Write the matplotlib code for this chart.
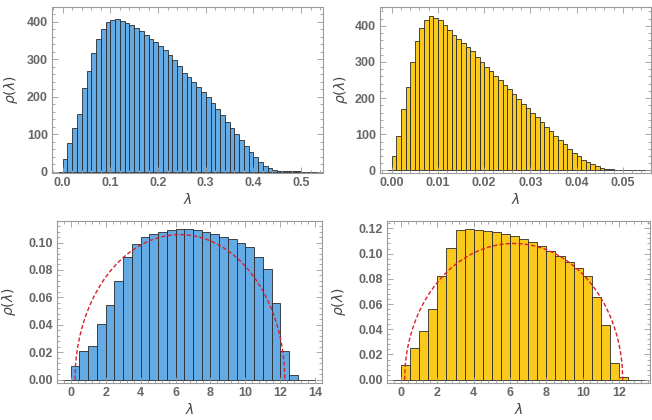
import numpy as np
import matplotlib.pyplot as plt
from matplotlib.ticker import MultipleLocator, FormatStrFormatter

# top row: spectra of small-lambda ensembles (bin starts + counts)
tl_start, tl_width = -0.01, 0.01
tl_counts = [0,
             34, 76, 116, 153, 222, 268, 316, 354, 380, 398,
             404, 407, 403, 397, 390, 383, 374, 364, 354, 345,
             336, 325, 312, 298, 282, 264, 252, 240, 226, 213,
             198, 182, 166, 150, 133, 116, 100, 84, 68, 52,
             38, 26, 16, 9, 5, 3, 2, 1.5, 1, 0.6,
             0.4, 0.3, 0.2, 0.1, 0.1]

tr_start, tr_width = -0.001, 0.001
tr_counts = [0,
             39, 94, 170, 230, 301, 359, 393, 416, 426, 421,
             415, 403, 389, 375, 363, 353, 342, 329, 315, 301,
             287, 275, 262, 249, 236, 224, 211, 198, 185, 172,
             160, 147, 134, 121, 108, 96, 84, 72, 60, 49,
             39, 30, 23, 17, 12, 8, 5, 3.5, 2.5, 1.5,
             1, 0.7, 0.5, 0.4, 0.3, 0.2, 0.1]

# bottom row: densities with semicircle overlay
bl_start, bl_width = -0.5, 0.5
bl_density = [0,
              0.0097, 0.0206, 0.0247, 0.0407, 0.0545, 0.0719, 0.0896, 0.0988,
              0.1040, 0.1060, 0.1077, 0.1094, 0.1096, 0.1097, 0.1089, 0.1077,
              0.1065, 0.1041, 0.1024, 0.0993, 0.0964, 0.0896, 0.0806, 0.0557,
              0.0211, 0.0031, 0, 0]

br_start, br_width = -0.5, 0.5
br_density = [0,
              0.0113, 0.0250, 0.0387, 0.0558, 0.0824, 0.1047, 0.1184, 0.1197,
              0.1184, 0.1179, 0.1171, 0.1158, 0.1142, 0.1118, 0.1092, 0.1060,
              0.1021, 0.0982, 0.0934, 0.0882, 0.0824, 0.0658, 0.0434, 0.0132,
              0.0018, 0, 0]

# semicircle overlay: (centre, radius, peak)
bl_semi = (6.25, 6.0, 0.1058)
br_semi = (6.2, 6.0, 0.108)

blue = '#64abe6'
gold = '#fbc91c'
gray = '#666666'

W, H = 652, 420
fig = plt.figure(figsize=(W / 100, H / 100), dpi=100)


def box(l, r, t, b):
    return [l / W, 1 - b / H, (r - l) / W, (b - t) / H]


def style(ax, xmaj, ymaj, xfmt, yfmt, ylab_x):
    for s in ax.spines.values():
        s.set_color('#9a9a9a')
        s.set_linewidth(0.8)
    ax.xaxis.set_major_locator(MultipleLocator(xmaj))
    ax.xaxis.set_minor_locator(MultipleLocator(xmaj / 5))
    ax.yaxis.set_major_locator(MultipleLocator(ymaj))
    ax.yaxis.set_minor_locator(MultipleLocator(ymaj / 5))
    ax.xaxis.set_major_formatter(FormatStrFormatter(xfmt))
    ax.yaxis.set_major_formatter(FormatStrFormatter(yfmt))
    ax.tick_params(which='both', direction='in', top=True, right=True,
                   color='#9a9a9a', width=0.6)
    ax.tick_params(which='major', length=4, labelsize=9,
                   labelcolor=gray, pad=3)
    ax.tick_params(which='minor', length=2)
    for lab in ax.get_xticklabels() + ax.get_yticklabels():
        lab.set_fontweight('bold')
        lab.set_family('Liberation Sans')
    ax.set_xlabel(r'$\lambda$', fontsize=10, color='#444444', labelpad=2)
    ax.set_ylabel(r'$\rho(\lambda)$', fontsize=10, color='#444444')
    ax.yaxis.set_label_coords(ylab_x, 0.5)


def hist(ax, start, width, vals, color):
    edges = start + width * np.arange(len(vals))
    ax.bar(edges, vals, width=width, align='edge', color=color,
           edgecolor='#2a2a2a', linewidth=0.6)


def semicircle(ax, params):
    c, r, peak = params
    x = np.linspace(c - r, c + r, 400)
    y = peak * np.sqrt(np.clip(1 - ((x - c) / r) ** 2, 0, None))
    ax.plot(x, y, color='#d8202e', lw=1.0, dashes=(3, 1.6))


ax1 = fig.add_axes(box(52, 323, 7, 173))
hist(ax1, tl_start, tl_width, tl_counts, blue)
ax1.set_xlim(-0.0225, 0.546)
ax1.set_ylim(-3.5, 439)
style(ax1, 0.1, 100, '%.1f', '%d', -0.118)

ax2 = fig.add_axes(box(380, 651, 7, 173))
hist(ax2, tr_start, tr_width, tr_counts, gold)
ax2.set_xlim(-0.00253, 0.0561)
ax2.set_ylim(-7, 452)
style(ax2, 0.01, 100, '%.2f', '%d', -0.11)

ax3 = fig.add_axes(box(57, 322, 221, 383))
hist(ax3, bl_start, bl_width, bl_density, blue)
semicircle(ax3, bl_semi)
ax3.set_xlim(-0.78, 14.38)
ax3.set_ylim(-0.0024, 0.1157)
style(ax3, 2, 0.02, '%d', '%.2f', -0.147)

ax4 = fig.add_axes(box(387, 650, 221, 383))
hist(ax4, br_start, br_width, br_density, gold)
semicircle(ax4, br_semi)
ax4.set_xlim(-0.77, 13.7)
ax4.set_ylim(-0.0026, 0.1258)
style(ax4, 2, 0.02, '%d', '%.2f', -0.148)

fig.savefig('out.png', dpi=100)
